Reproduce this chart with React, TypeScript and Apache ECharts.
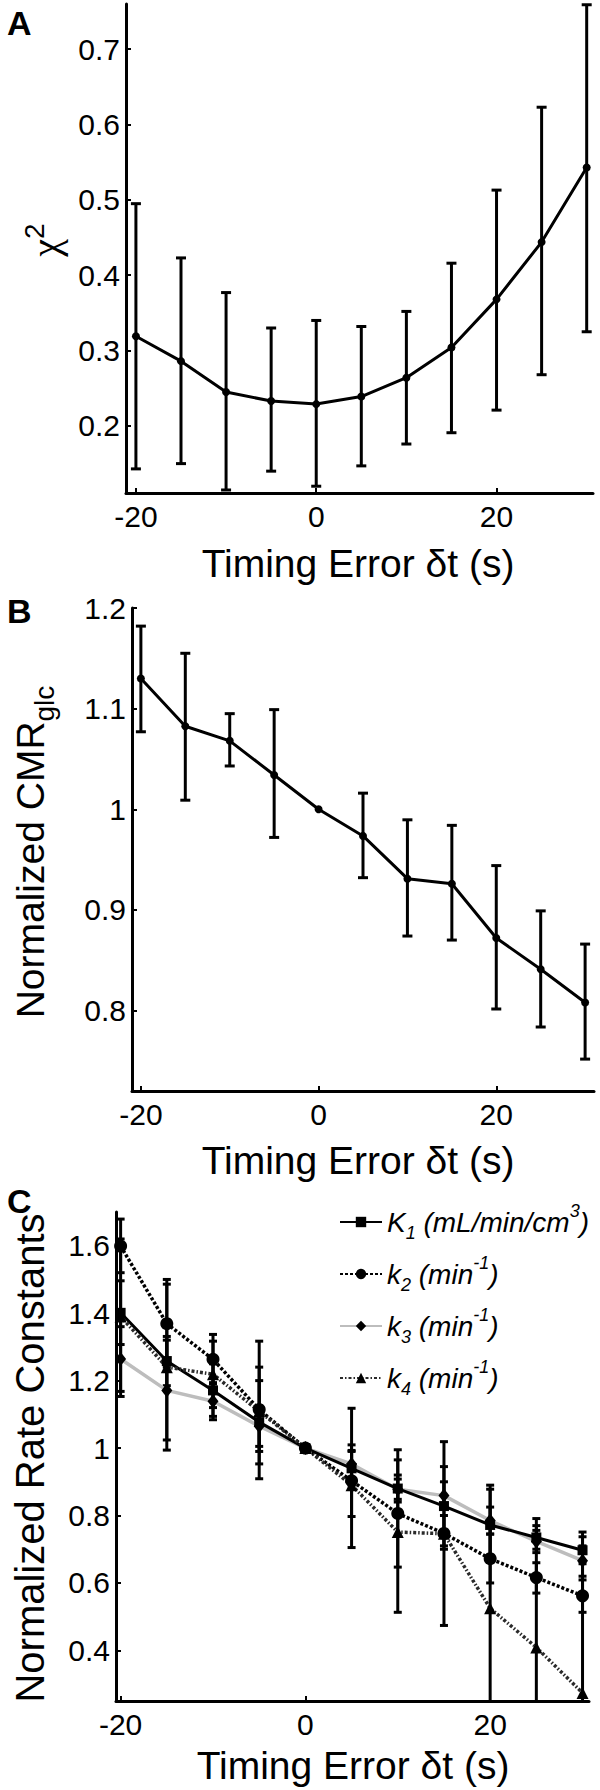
import React, { useEffect, useRef } from "react";
import * as echarts from "echarts";

// ---- data ----
const timing = [-20, -15, -10, -5, 0, 5, 10, 15, 20, 25, 30];
const xTicks = [-20, 0, 20];
const chiTicks = [0.2, 0.3, 0.4, 0.5, 0.6, 0.7];
const cmrTicks = [0.8, 0.9, 1, 1.1, 1.2];
const rateTicks = [0.4, 0.6, 0.8, 1, 1.2, 1.4, 1.6];

const chi2Mean = [0.319, 0.286, 0.245, 0.233, 0.229, 0.239, 0.264, 0.304, 0.368, 0.444, 0.543];
const chi2Low = [0.143, 0.15, 0.115, 0.14, 0.12, 0.147, 0.176, 0.191, 0.221, 0.268, 0.325];
const chi2High = [0.495, 0.423, 0.377, 0.33, 0.34, 0.332, 0.352, 0.416, 0.513, 0.623, 0.759];

const cmrMean = [1.13, 1.0825, 1.068, 1.034, 1.0, 0.9735, 0.931, 0.926, 0.872, 0.841, 0.808];
const cmrLow = [1.077, 1.009, 1.043, 0.972, 1.0, 0.932, 0.874, 0.87, 0.8015, 0.7836, 0.7517];
const cmrHigh = [1.182, 1.155, 1.095, 1.099, 1.0, 1.016, 0.9895, 0.984, 0.944, 0.899, 0.866];

const K1Mean = [1.401, 1.258, 1.171, 1.077, 1, 0.94, 0.88, 0.828, 0.772, 0.735, 0.697];
const K1Low = [1.307, 1.185, 1.094, 0.953, 1, 0.89, 0.84, 0.71, 0.666, 0.7, 0.657];
const K1High = [1.496, 1.331, 1.25, 1.2, 1, 0.99, 0.92, 0.945, 0.878, 0.77, 0.737];

const k2Mean = [1.599, 1.369, 1.263, 1.114, 1, 0.903, 0.806, 0.747, 0.672, 0.616, 0.562];
const k2Low = [1.52, 1.24, 1.19, 0.99, 1, 0.797, 0.647, 0.7, 0.6, 0.57, 0.513];
const k2High = [1.679, 1.5, 1.337, 1.24, 1, 1.0095, 0.965, 0.8, 0.745, 0.66, 0.609];

const k3Mean = [1.264, 1.171, 1.139, 1.065, 1, 0.953, 0.878, 0.859, 0.785, 0.723, 0.666];
const k3Low = [1.168, 1.024, 1.084, 1.005, 1, 0.913, 0.848, 0.82, 0.745, 0.69, 0.62];
const k3High = [1.36, 1.32, 1.194, 1.125, 1, 0.993, 0.908, 0.9, 0.825, 0.756, 0.71];

const k4Mean = [1.39, 1.24, 1.219, 1.109, 1, 0.89, 0.751, 0.746, 0.525, 0.409, 0.274];
const k4Low = [1.153, 0.994, 1.12, 0.909, 1, 0.705, 0.513, 0.474, 0.16, 0.03, -0.2];
const k4High = [1.62, 1.486, 1.317, 1.317, 1, 1.118, 0.995, 1.019, 0.89, 0.791, 0.751];

const legendNames = ["K1", "k2", "k3", "k4"];

// ---- styling ----
const FONT = "'Liberation Sans', Arial, Helvetica, sans-serif";
const fmt = (v: number) => String(Number(Number(v).toFixed(2)));

const ranges = [
  { xMin: -21.1, xMax: 30.7, yMin: 0.111, yMax: 0.76 },
  { xMin: -21, xMax: 31, yMin: 0.72, yMax: 1.2 },
  { xMin: -20.5, xMax: 30.7, yMin: 0.25, yMax: 1.7 },
];

function makeXAxis(g: number) {
  return {
    type: "value",
    gridIndex: g,
    min: ranges[g].xMin,
    max: ranges[g].xMax,
    axisLine: { show: true, onZero: false, lineStyle: { color: "#000", width: 3 } },
    axisTick: { show: true, inside: true, length: 5, customValues: xTicks, lineStyle: { color: "#000", width: 2 } },
    axisLabel: { customValues: xTicks, margin: 8, color: "#000", fontSize: 30, fontFamily: FONT, formatter: fmt },
    splitLine: { show: false },
  };
}

function makeYAxis(g: number, ticks: number[]) {
  return {
    type: "value",
    gridIndex: g,
    min: ranges[g].yMin,
    max: ranges[g].yMax,
    axisLine: { show: true, onZero: false, lineStyle: { color: "#000", width: 3 } },
    axisTick: { show: true, inside: true, length: 5, customValues: ticks, lineStyle: { color: "#000", width: 2 } },
    axisLabel: { customValues: ticks, margin: 6, color: "#000", fontSize: 30, fontFamily: FONT, formatter: fmt },
    splitLine: { show: false },
  };
}

function errSeries(g: number, lows: number[], highs: number[], capHalf: number) {
  const { yMin, yMax } = ranges[g];
  return {
    type: "custom",
    xAxisIndex: g,
    yAxisIndex: g,
    z: 3,
    silent: true,
    data: timing.map((t, i) => [t, lows[i], highs[i]]),
    encode: { x: 0, y: [1, 2] },
    renderItem: (_params: any, api: any) => {
      const x = api.value(0);
      const lo = api.value(1);
      const hi = api.value(2);
      if (hi - lo < 1e-6) return { type: "group", children: [] };
      const loC = Math.max(lo, yMin);
      const hiC = Math.min(hi, yMax);
      const top = api.coord([x, hiC]);
      const bot = api.coord([x, loC]);
      const st = { stroke: "#000", lineWidth: 3 };
      const children: any[] = [
        { type: "line", shape: { x1: top[0], y1: top[1], x2: bot[0], y2: bot[1] }, style: st },
      ];
      if (hi <= yMax)
        children.push({ type: "line", shape: { x1: top[0] - capHalf, y1: top[1], x2: top[0] + capHalf, y2: top[1] }, style: st });
      if (lo >= yMin)
        children.push({ type: "line", shape: { x1: bot[0] - capHalf, y1: bot[1], x2: bot[0] + capHalf, y2: bot[1] }, style: st });
      return { type: "group", children };
    },
  };
}

function lineSeries(g: number, name: string | undefined, ys: number[], extra: any) {
  return {
    type: "line",
    name,
    xAxisIndex: g,
    yAxisIndex: g,
    silent: true,
    z: 4,
    data: timing.map((t, i) => [t, ys[i]]),
    ...extra,
  };
}

const legendRich = {
  t: { fontSize: 28, fontStyle: "italic", fontFamily: FONT, lineHeight: 40, color: "#000" },
  sub: { fontSize: 18, fontStyle: "italic", fontFamily: FONT, lineHeight: 20, verticalAlign: "bottom", color: "#000" },
  sup: { fontSize: 18, fontStyle: "italic", fontFamily: FONT, lineHeight: 22, verticalAlign: "top", color: "#000" },
};

function legendLabel(name: string) {
  if (name === "K1") return "{t|K}{sub|1}{t| (mL/min/cm}{sup|3}{t|)}";
  const n = name.slice(1);
  return `{t|k}{sub|${n}}{t| (min}{sup|-1}{t|)}`;
}

function makeLegend(name: string, idx: number) {
  return {
    show: true,
    data: [name],
    orient: "vertical",
    left: 339,
    top: 1202 + idx * 52,
    itemWidth: 42,
    itemHeight: 13,
    selectedMode: false,
    padding: 0,
    textStyle: { color: "#000", rich: legendRich },
    formatter: legendLabel,
  };
}

export default function App() {
  const ref = useRef<HTMLDivElement>(null);
  useEffect(() => {
    if (!ref.current) return;
    const chart = echarts.init(ref.current, null, { renderer: "svg" });
    const labelFont = `39px ${FONT}`;
    const option: any = {
      animation: false,
      backgroundColor: "#fff",
      grid: [
        { left: 126, right: 7, top: 4, height: 489 },
        { left: 132, right: 6, top: 608, height: 483 },
        { left: 116, right: 11, top: 1212, height: 489 },
      ],
      xAxis: [makeXAxis(0), makeXAxis(1), makeXAxis(2)],
      yAxis: [makeYAxis(0, chiTicks), makeYAxis(1, cmrTicks), makeYAxis(2, rateTicks)],
      legend: legendNames.map((n, i) => makeLegend(n, i)),
      graphic: [
        { type: "text", left: 7, top: 6, style: { text: "A", font: `bold 34px ${FONT}`, fill: "#000" } },
        { type: "text", left: 7, top: 594, style: { text: "B", font: `bold 34px ${FONT}`, fill: "#000" } },
        { type: "text", left: 7, top: 1184, style: { text: "C", font: `bold 34px ${FONT}`, fill: "#000" } },
        {
          type: "text",
          x: 45,
          y: 240,
          rotation: Math.PI / 2,
          style: {
            text: "{c|χ}{s|2}",
            align: "center",
            verticalAlign: "middle",
            rich: {
              c: { fontSize: 40, fontFamily: "'Liberation Serif', 'DejaVu Serif', serif", lineHeight: 50, fill: "#000" },
              s: { fontSize: 28, fontFamily: FONT, lineHeight: 28, verticalAlign: "top", fill: "#000" },
            },
          },
        },
        {
          type: "text",
          x: 30,
          y: 852,
          rotation: Math.PI / 2,
          style: {
            text: "{n|Normalized CMR}{s|glc}",
            align: "center",
            verticalAlign: "middle",
            rich: {
              n: { fontSize: 39, fontFamily: FONT, lineHeight: 56, fill: "#000" },
              s: { fontSize: 28, fontFamily: FONT, lineHeight: 28, verticalAlign: "bottom", fill: "#000" },
            },
          },
        },
        {
          type: "text",
          x: 30,
          y: 1458,
          rotation: Math.PI / 2,
          style: { text: "Normalized Rate Constants", font: `40px ${FONT}`, fill: "#000", align: "center", verticalAlign: "middle" },
        },
        { type: "text", x: 358, y: 563, style: { text: "Timing Error δt (s)", font: labelFont, fill: "#000", align: "center", verticalAlign: "middle" } },
        { type: "text", x: 358, y: 1160, style: { text: "Timing Error δt (s)", font: labelFont, fill: "#000", align: "center", verticalAlign: "middle" } },
        { type: "text", x: 353, y: 1765, style: { text: "Timing Error δt (s)", font: labelFont, fill: "#000", align: "center", verticalAlign: "middle" } },
      ],
      series: [
        errSeries(0, chi2Low, chi2High, 5),
        lineSeries(0, undefined, chi2Mean, {
          symbol: "circle",
          symbolSize: 8,
          itemStyle: { color: "#000" },
          lineStyle: { color: "#000", width: 3 },
        }),
        errSeries(1, cmrLow, cmrHigh, 5),
        lineSeries(1, undefined, cmrMean, {
          symbol: "circle",
          symbolSize: 8,
          itemStyle: { color: "#000" },
          lineStyle: { color: "#000", width: 3 },
        }),
        errSeries(2, K1Low, K1High, 4),
        errSeries(2, k2Low, k2High, 4),
        errSeries(2, k3Low, k3High, 4),
        errSeries(2, k4Low, k4High, 4),
        lineSeries(2, "k3", k3Mean, {
          symbol: "diamond",
          symbolSize: [11, 14],
          z: 3,
          itemStyle: { color: "#000" },
          lineStyle: { color: "#bdbdbd", width: 3.5 },
        }),
        lineSeries(2, "K1", K1Mean, {
          symbol: "rect",
          symbolSize: 10,
          itemStyle: { color: "#000" },
          lineStyle: { color: "#000", width: 3 },
        }),
        lineSeries(2, "k2", k2Mean, {
          symbol: "circle",
          symbolSize: 13,
          itemStyle: { color: "#000" },
          lineStyle: { color: "#000", width: 3.5, type: [3, 2] },
        }),
        lineSeries(2, "k4", k4Mean, {
          symbol: "triangle",
          symbolSize: 12,
          itemStyle: { color: "#000" },
          lineStyle: { color: "#2a2a2a", width: 3.5, type: [3, 2, 1.5, 2] },
        }),
      ],
    };
    chart.setOption(option);
    return () => chart.dispose();
  }, []);
  return <div ref={ref} style={{ position: "absolute", left: 0, top: 0, width: 600, height: 1790, background: "#fff" }} />;
}
